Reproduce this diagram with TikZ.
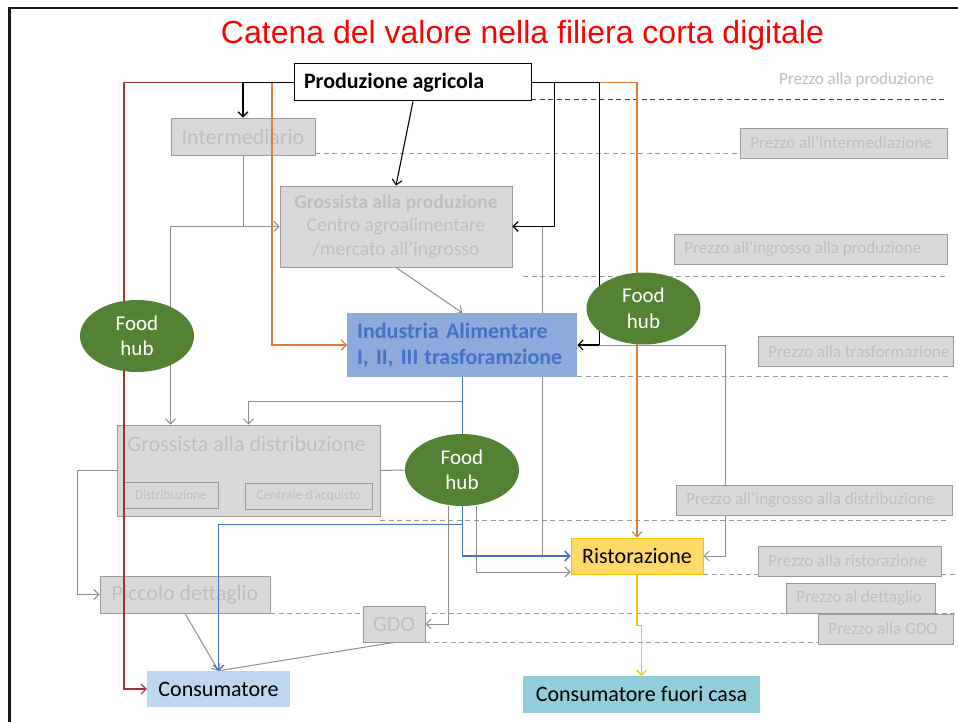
\documentclass[tikz,border=0pt]{standalone}
\usepackage{fontspec}
\setmainfont{Carlito}
\newfontfamily\titlefont{Liberation Sans}
\usetikzlibrary{arrows.meta,shapes.geometric}
\definecolor{gtext}{HTML}{BFBFBF}
\definecolor{gfill}{HTML}{D9D9D9}
\definecolor{gdraw}{HTML}{9A9A9A}
\definecolor{gline}{HTML}{8E8E8E}
\definecolor{dline}{HTML}{9A9A9A}
\definecolor{redl}{HTML}{A8322D}
\definecolor{orl}{HTML}{E07A3A}
\definecolor{bluel}{HTML}{4472C4}
\definecolor{yell}{HTML}{FFC000}
\definecolor{hubg}{HTML}{548235}
\definecolor{indfill}{HTML}{8EA9DB}
\definecolor{consfill}{HTML}{BDD7EE}
\definecolor{ristfill}{HTML}{FFD966}
\definecolor{fcfill}{HTML}{92CDDC}
\definecolor{titred}{HTML}{FF0000}
\pgfdeclarelayer{back}
\pgfdeclarelayer{mid}
\pgfsetlayers{back,mid,main}
\newcommand{\lbox}[2]{\makebox[#1][l]{#2}}
\tikzset{
  graybox/.style={draw=gdraw, fill=gfill, line width=0.9pt, text=gtext, inner sep=0pt,
    font=\fontsize{22}{26}\selectfont},
  pricebox/.style={draw=gdraw, fill=gfill, line width=0.9pt, text=gtext, anchor=west,
    inner xsep=10pt, inner ysep=0pt, minimum height=30pt, font=\fontsize{17}{20}\selectfont},
  hub/.style={ellipse, fill=hubg, text=white, minimum width=114pt, minimum height=72pt,
    inner sep=0pt, align=center, font=\fontsize{21}{25.5}\selectfont},
  colbox/.style={inner sep=0pt, text=black, font=\fontsize{22}{26}\selectfont},
  conn/.style={line width=1.1pt, -{Straight Barb[length=5pt,width=10pt]}},
  gconn/.style={conn, draw=gline, line width=1pt},
  dashln/.style={draw=dline, line width=1pt, dash pattern=on 5pt off 3.5pt},
}
\begin{document}
\begin{tikzpicture}[x=1pt, y=-1pt]
\useasboundingbox (0,0) rectangle (958,722);

% ---------- back layer: background, dashed price lines and gray boxes ----------
\begin{pgfonlayer}{back}
\fill[white] (0,0) rectangle (958,722);
\draw[dashln, draw=black!75] (497,100) -- (947,100);
\draw[dashln] (315,154) -- (740,154);
\draw[dashln] (523,276) -- (947,276);
\draw[dashln] (577,376) -- (950,376);
\draw[dashln] (380,520) -- (947,520);
\draw[dashln] (703,574) -- (958,574);
\draw[dashln] (270,613) -- (958,613);
\draw[dashln] (425,642) -- (818,642);

\node[graybox, minimum width=144pt, minimum height=37pt] (inter) at (243,136.5) {Intermediario};
\node[graybox, minimum width=232pt, minimum height=81pt, align=center,
  font=\fontsize{19.5}{23.5}\selectfont] (gprod) at (396,226.5)
  {\textbf{Grossista alla produzione}\\Centro agroalimentare\\/mercato all’ingrosso};
\node[graybox, minimum width=263pt, minimum height=91pt] (gdist) at (248.5,470.5) {};
\node[text=gtext, inner sep=0pt, font=\fontsize{22}{26}\selectfont] (gdisttitle) at (246.5,444) {Grossista alla distribuzione};
\node[graybox, minimum width=94pt, minimum height=26pt, font=\fontsize{13.4}{16}\selectfont] (distr) at (171,495) {Distribuzione};
\node[graybox, minimum width=127pt, minimum height=26pt, font=\fontsize{13.4}{16}\selectfont] (centr) at (308.5,496) {Centrale d’acquisto};
\node[graybox, minimum width=170pt, minimum height=37pt] (picc) at (185,594.5) {Piccolo dettaglio};
\node[graybox, minimum width=62pt, minimum height=36pt] (gdo) at (394,624) {GDO};
\end{pgfonlayer}

% ---------- main layer: coloured nodes ----------
\node[text=titred, inner sep=0pt, font=\titlefont\fontsize{32}{38}\selectfont] (title) at (522.5,35)
  {Catena del valore nella filiera corta digitale};

\node[draw=black, fill=white, line width=1pt, anchor=west, inner xsep=9.5pt, inner ysep=0pt,
  minimum height=37pt, font=\bfseries\fontsize{22}{26}\selectfont] (prod) at (294,82.5)
  {\lbox{218pt}{Produzione agricola}};

\node[fill=indfill, text=bluel, anchor=west, text width=210pt, inner xsep=10pt, inner ysep=0pt,
  minimum height=64pt, align=left, font=\bfseries\fontsize{22}{26}\selectfont] (ind) at (347,345)
  {\mbox{Industria Alimentare}\\\mbox{I, II, III\hspace{6pt}trasforamzione}};

\node[hub] (fh1) at (137,336) {Food\\hub};
\node[hub] (fh2) at (643.5,308.5) {Food\\hub};
\node[hub] (fh3) at (462,470) {Food\\hub};

\node[colbox, fill=consfill, minimum width=143pt, minimum height=36pt] (cons) at (218.5,689) {Consumatore};
\node[colbox, fill=ristfill, draw=yell, line width=1pt, minimum width=132pt, minimum height=36pt] (rist) at (637,556) {Ristorazione};
\node[colbox, fill=fcfill, minimum width=237pt, minimum height=37pt] (consfc) at (641.5,694.5) {Consumatore fuori casa};

\node[text=gtext, inner sep=0pt, font=\fontsize{17}{20}\selectfont] (pprod) at (856.5,80) {Prezzo alla produzione};
\node[pricebox] (pint) at (740,143) {\lbox{187pt}{Prezzo all’intermediazione}};
\node[pricebox] (pingp) at (674,249) {\lbox{253pt}{Prezzo all’ingrosso alla produzione}};
\node[pricebox] (ptras) at (758,351.5) {\lbox{175pt}{Prezzo alla trasformazione}};
\node[pricebox] (pingd) at (676,500) {\lbox{256pt}{Prezzo all’ingrosso alla distribuzione}};
\node[pricebox] (prist) at (758,561) {\lbox{163pt}{Prezzo alla ristorazione}};
\node[pricebox] (pdett) at (786,598) {\lbox{129pt}{Prezzo al dettaglio}};
\node[pricebox] (pgdo) at (818,629) {\lbox{115pt}{Prezzo alla GDO}};

% frame (left and top edges; the others lie outside the picture)
\draw[line width=2.5pt, black!90] (9.5,730) -- (9.5,8) -- (965,8);

% ---------- mid layer: connectors ----------
\begin{pgfonlayer}{mid}
% red: direct to consumer
\draw[conn, draw=redl] (prod.west) -- ++(-170,0) |- (cons.west);
% orange
\draw[conn, draw=orl] (prod.west) -| ([xshift=-75pt]ind.west) -- (ind.west);
\draw[conn, draw=orl] (prod.east) -| (rist.north);
% black
\draw[conn, draw=black] (prod.west) -| (inter.north);
\draw[conn, draw=black] (prod.south) -- (gprod.north);
\draw[conn, draw=black] (prod.east) -| ([xshift=42pt]gprod.east) -- (gprod.east);
\draw[conn, draw=black] (prod.east) -| ([xshift=22pt]ind.east) -- (ind.east);
% gray
\draw[gconn] (inter.south) |- (gprod.west);
\draw[gconn] (inter.south |- gprod.west) -| ([xshift=54pt]gdist.north west);
\draw[gconn] (gprod.south) -- (ind.north);
\draw[gconn] ([xshift=30pt]gprod.east) |- (rist.west);
\draw[gconn] ([xshift=22pt]ind.east) -| ([xshift=22pt]rist.east) -- (rist.east);
\draw[gconn] ([yshift=-24pt]ind.south) -| ([xshift=132pt]gdist.north west);
\draw[draw=gline, line width=1pt] (gdist.east) -- (fh3.west);
\draw[gconn] (gdist.west) -- ++(-39,0) |- (picc.west);
\draw[gconn] ([xshift=-14pt]fh3.south) |- (gdo.east);
\draw[gconn] ([xshift=14pt]fh3.south) |- ([yshift=-16pt]rist.west);
\draw[gconn] (picc.south) -- (cons.north);
\draw[gconn] (gdo.south) -- (cons.north);
% blue
\draw[conn, draw=bluel] (ind.south) |- (rist.west);
\draw[conn, draw=bluel] ([yshift=-147pt]ind.south) -| (cons.north);
% yellow
\draw[conn, draw=yell] (rist.south) -- ++(0,51) -| (consfc.north);
\end{pgfonlayer}
\end{tikzpicture}
\end{document}
